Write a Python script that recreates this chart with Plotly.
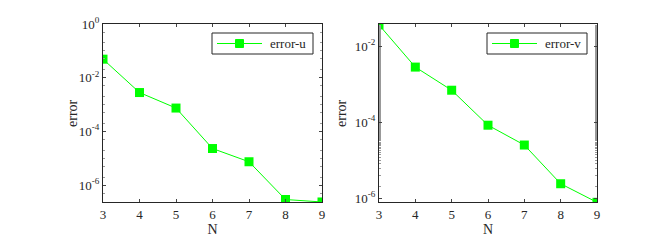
import plotly.graph_objects as go

N = [3, 4, 5, 6, 7, 8, 9]
error_u = [0.049, 0.0028, 7.4e-4, 2.3e-5, 7.4e-6, 2.9e-7, 2.35e-7]
error_v = [0.036, 0.0028, 6.9e-4, 8.3e-5, 2.5e-5, 2.4e-6, 7.8e-7]

u_tickvals = [1, 1e-2, 1e-4, 1e-6]
u_ticktext = ["10<sup>0</sup>", "10<sup>-2</sup>", "10<sup>-4</sup>", "10<sup>-6</sup>"]
v_tickvals = [1e-2, 1e-4, 1e-6]
v_ticktext = ["10<sup>-2</sup>", "10<sup>-4</sup>", "10<sup>-6</sup>"]

FONT = "Liberation Serif"
TXT = "#262626"
GREEN = "#00ff00"

# page has an 8px body margin; figure is sized to fit the 654x241 window
OFF = 8
W, H = 654 - OFF, 241 - OFF


def fx(px):
    return (px - OFF) / W


def fy(py):
    return 1 - (py - OFF) / H


fig = go.Figure()
fig.add_trace(go.Scatter(x=N, y=error_u, mode="lines+markers", name="error-u",
                         line=dict(color=GREEN, width=1),
                         marker=dict(symbol="square", size=9, color=GREEN),
                         xaxis="x", yaxis="y"))
fig.add_trace(go.Scatter(x=N, y=error_v, mode="lines+markers", name="error-v",
                         line=dict(color=GREEN, width=1),
                         marker=dict(symbol="square", size=9, color=GREEN),
                         xaxis="x2", yaxis="y2", showlegend=False))

common_x = dict(range=[3, 9], tickvals=N, ticks="inside", ticklen=3, mirror="allticks",
                showline=True, linecolor="#262626", linewidth=1, showgrid=False, zeroline=False,
                automargin=False,
                tickfont=dict(family=FONT, size=13, color=TXT),
                title=dict(text="N", font=dict(family=FONT, size=14, color=TXT), standoff=2))
common_y = dict(type="log", ticks="inside", ticklen=3, mirror="allticks",
                showline=True, linecolor="#262626", linewidth=1, showgrid=False, zeroline=False,
                automargin=False,
                tickfont=dict(family=FONT, size=13, color=TXT),
                minor=dict(ticks="inside", ticklen=2, tickcolor="#999999", showgrid=False))

fig.update_layout(
    width=W, height=H,
    margin=dict(l=0, r=0, t=0, b=0, autoexpand=False),
    paper_bgcolor="white", plot_bgcolor="white",
    showlegend=False,
    xaxis=dict(domain=[fx(103), fx(322)], anchor="y", **common_x),
    yaxis=dict(domain=[fy(202), fy(24)], anchor="x", range=[-6.63, 0],
               tickmode="array", tickvals=u_tickvals, ticktext=u_ticktext, **common_y),
    xaxis2=dict(domain=[fx(379), fx(597)], anchor="y2", **common_x),
    yaxis2=dict(domain=[fy(202), fy(24)], anchor="x2", range=[-6.1, -1.42],
                tickmode="array", tickvals=v_tickvals, ticktext=v_ticktext, **common_y),
)

# y-axis titles
for xpos in (72, 341):
    fig.add_annotation(xref="paper", yref="paper", x=fx(xpos), y=fy(113),
                       text="error", showarrow=False, textangle=-90,
                       xanchor="center", yanchor="middle",
                       font=dict(family=FONT, size=14, color=TXT))

# Legend boxes (MATLAB style)
for (x0, x1, label) in [(212, 313, "error-u"), (487, 587, "error-v")]:
    fig.add_shape(type="rect", xref="paper", yref="paper",
                  x0=fx(x0), x1=fx(x1), y0=fy(54), y1=fy(33),
                  line=dict(color="#262626", width=1), fillcolor="white")
    fig.add_shape(type="line", xref="paper", yref="paper",
                  x0=fx(x0 + 5), x1=fx(x0 + 50), y0=fy(43.5), y1=fy(43.5),
                  line=dict(color=GREEN, width=1))
    fig.add_shape(type="rect", xref="paper", yref="paper",
                  x0=fx(x0 + 23.5), x1=fx(x0 + 31.5), y0=fy(47.5), y1=fy(39.5),
                  line=dict(color=GREEN, width=1), fillcolor=GREEN)
    fig.add_annotation(xref="paper", yref="paper", x=fx(x0 + 56), y=fy(43.5),
                       text=label, showarrow=False, xanchor="left", yanchor="middle",
                       font=dict(family=FONT, size=13, color=TXT))

fig.write_html("out.html")
